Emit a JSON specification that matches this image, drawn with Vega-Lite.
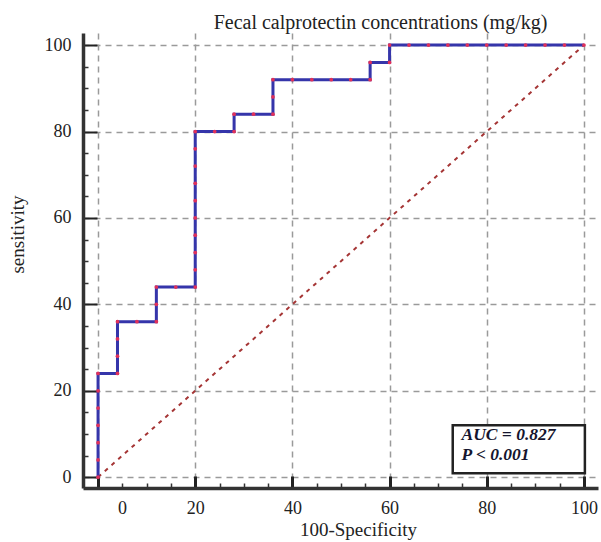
{
  "$schema": "https://vega.github.io/schema/vega-lite/v6.json",
  "width": 515,
  "height": 455,
  "autosize": "none",
  "padding": {"left": 83, "top": 33, "right": 3, "bottom": 54},
  "background": "white",
  "config": {"view": {"stroke": null}},
  "title": {
    "text": "Fecal calprotectin concentrations (mg/kg)",
    "font": "Liberation Serif",
    "fontSize": 20,
    "fontWeight": "normal",
    "color": "#222222",
    "anchor": "middle",
    "frame": "group",
    "dx": 40,
    "offset": -16,
    "baseline": "alphabetic"
  },
  "datasets": {
    "roc": [
      {"step": 0, "fpr": 0, "tpr": 0},
      {"step": 1, "fpr": 0, "tpr": 4},
      {"step": 2, "fpr": 0, "tpr": 8},
      {"step": 3, "fpr": 0, "tpr": 12},
      {"step": 4, "fpr": 0, "tpr": 16},
      {"step": 5, "fpr": 0, "tpr": 20},
      {"step": 6, "fpr": 0, "tpr": 24},
      {"step": 7, "fpr": 4, "tpr": 24},
      {"step": 8, "fpr": 4, "tpr": 28},
      {"step": 9, "fpr": 4, "tpr": 32},
      {"step": 10, "fpr": 4, "tpr": 36},
      {"step": 11, "fpr": 8, "tpr": 36},
      {"step": 12, "fpr": 12, "tpr": 36},
      {"step": 13, "fpr": 12, "tpr": 40},
      {"step": 14, "fpr": 12, "tpr": 44},
      {"step": 15, "fpr": 16, "tpr": 44},
      {"step": 16, "fpr": 20, "tpr": 44},
      {"step": 17, "fpr": 20, "tpr": 48},
      {"step": 18, "fpr": 20, "tpr": 52},
      {"step": 19, "fpr": 20, "tpr": 56},
      {"step": 20, "fpr": 20, "tpr": 60},
      {"step": 21, "fpr": 20, "tpr": 64},
      {"step": 22, "fpr": 20, "tpr": 68},
      {"step": 23, "fpr": 20, "tpr": 72},
      {"step": 24, "fpr": 20, "tpr": 76},
      {"step": 25, "fpr": 20, "tpr": 80},
      {"step": 26, "fpr": 24, "tpr": 80},
      {"step": 27, "fpr": 28, "tpr": 80},
      {"step": 28, "fpr": 28, "tpr": 84},
      {"step": 29, "fpr": 32, "tpr": 84},
      {"step": 30, "fpr": 36, "tpr": 84},
      {"step": 31, "fpr": 36, "tpr": 88},
      {"step": 32, "fpr": 36, "tpr": 92},
      {"step": 33, "fpr": 40, "tpr": 92},
      {"step": 34, "fpr": 44, "tpr": 92},
      {"step": 35, "fpr": 48, "tpr": 92},
      {"step": 36, "fpr": 52, "tpr": 92},
      {"step": 37, "fpr": 56, "tpr": 92},
      {"step": 38, "fpr": 56, "tpr": 96},
      {"step": 39, "fpr": 60, "tpr": 96},
      {"step": 40, "fpr": 60, "tpr": 100},
      {"step": 41, "fpr": 64, "tpr": 100},
      {"step": 42, "fpr": 68, "tpr": 100},
      {"step": 43, "fpr": 72, "tpr": 100},
      {"step": 44, "fpr": 76, "tpr": 100},
      {"step": 45, "fpr": 80, "tpr": 100},
      {"step": 46, "fpr": 84, "tpr": 100},
      {"step": 47, "fpr": 88, "tpr": 100},
      {"step": 48, "fpr": 92, "tpr": 100},
      {"step": 49, "fpr": 96, "tpr": 100},
      {"step": 50, "fpr": 100, "tpr": 100}
    ],
    "ref": [
      {"fpr": 0, "tpr": 0},
      {"fpr": 100, "tpr": 100}
    ]
  },
  "resolve": {"axis": {"x": "independent", "y": "independent"}},
  "layer": [
    {
      "data": {"name": "ref"},
      "mark": {"type": "line", "color": "#a53535", "strokeWidth": 2, "strokeDash": [4, 5]},
      "encoding": {
        "x": {
          "field": "fpr", "type": "quantitative",
          "scale": {"domain": [-3.1, 102.9], "nice": false, "zero": false},
          "axis": {
            "orient": "bottom",
            "values": [0, 20, 40, 60, 80, 100],
            "title": "100-Specificity",
            "titleFont": "Liberation Serif", "titleFontSize": 19, "titleFontWeight": "normal", "titleColor": "#222222",
            "titleX": 275, "titleY": 47, "titleBaseline": "alphabetic", "titleAlign": "center",
            "grid": true, "gridColor": "#9a9a9a", "gridDash": [6, 5], "gridWidth": 1.5,
            "domainColor": "#333333", "domainWidth": 3.5,
            "tickColor": "#222222", "tickWidth": 3, "tickSize": -12,
            "labelFont": "Liberation Serif", "labelFontSize": 18, "labelColor": "#222222",
            "labelPadding": 23,
            "labelOffset": {"condition": {"test": "datum.value === 0", "value": 24}, "value": 0}
          }
        },
        "y": {
          "field": "tpr", "type": "quantitative",
          "scale": {"domain": [-2.5, 102.8], "nice": false, "zero": false},
          "axis": {
            "orient": "left",
            "values": [0, 20, 40, 60, 80, 100],
            "title": "sensitivity",
            "titleFont": "Liberation Serif", "titleFontSize": 19, "titleFontWeight": "normal", "titleColor": "#222222",
            "titleX": -60, "titleY": 201, "titleBaseline": "alphabetic", "titleAlign": "center", "titleAngle": -90,
            "grid": true, "gridColor": "#9a9a9a", "gridDash": [6, 5], "gridWidth": 1.5,
            "domainColor": "#333333", "domainWidth": 3.5,
            "tickColor": "#222222", "tickWidth": 2, "tickSize": -14,
            "labelFont": "Liberation Serif", "labelFontSize": 18, "labelColor": "#222222",
            "labelPadding": 26
          }
        }
      }
    },
    {
      "data": {"name": "roc"},
      "mark": {"type": "line", "color": "#3535aa", "strokeWidth": 3},
      "encoding": {
        "x": {
          "field": "fpr", "type": "quantitative",
          "scale": {"domain": [-3.1, 102.9], "nice": false, "zero": false},
          "axis": {
            "orient": "bottom",
            "values": [5, 10, 15, 25, 30, 35, 45, 50, 55, 65, 70, 75, 85, 90, 95],
            "title": null, "labels": false, "grid": false, "domain": false,
            "tickColor": "#333333", "tickWidth": 1.5, "tickSize": -5
          }
        },
        "y": {
          "field": "tpr", "type": "quantitative",
          "scale": {"domain": [-2.5, 102.8], "nice": false, "zero": false},
          "axis": {
            "orient": "left",
            "values": [5, 10, 15, 25, 30, 35, 45, 50, 55, 65, 70, 75, 85, 90, 95],
            "title": null, "labels": false, "grid": false, "domain": false,
            "tickColor": "#333333", "tickWidth": 1.5, "tickSize": -5
          }
        },
        "order": {"field": "step", "type": "quantitative"}
      }
    },
    {
      "data": {"name": "roc"},
      "mark": {"type": "point", "shape": "circle", "filled": true, "color": "#e0305a", "size": 14, "opacity": 1},
      "encoding": {
        "x": {"field": "fpr", "type": "quantitative", "scale": {"domain": [-3.1, 102.9], "nice": false, "zero": false}, "axis": null},
        "y": {"field": "tpr", "type": "quantitative", "scale": {"domain": [-2.5, 102.8], "nice": false, "zero": false}, "axis": null}
      }
    },
    {
      "data": {"values": [{"stat": "AUC"}]},
      "mark": {"type": "rect", "fill": "white", "stroke": "#222222", "strokeWidth": 2.5},
      "encoding": {
        "x": {"datum": 73, "type": "quantitative", "scale": {"domain": [-3.1, 102.9], "nice": false, "zero": false}, "axis": null},
        "x2": {"datum": 100.2},
        "y": {"datum": 0.9, "type": "quantitative", "scale": {"domain": [-2.5, 102.8], "nice": false, "zero": false}, "axis": null},
        "y2": {"datum": 12}
      }
    },
    {
      "data": {"values": [{"stat": "AUC"}]},
      "mark": {"type": "text", "font": "Liberation Serif", "fontSize": 17.5, "fontStyle": "italic", "fontWeight": "bold", "color": "#15152e", "align": "left", "baseline": "alphabetic", "lineHeight": 20},
      "encoding": {
        "x": {"datum": 74.8, "type": "quantitative", "scale": {"domain": [-3.1, 102.9], "nice": false, "zero": false}, "axis": null},
        "y": {"datum": 8.6, "type": "quantitative", "scale": {"domain": [-2.5, 102.8], "nice": false, "zero": false}, "axis": null},
        "text": {"value": ["AUC = 0.827", "P < 0.001"]}
      }
    }
  ]
}
